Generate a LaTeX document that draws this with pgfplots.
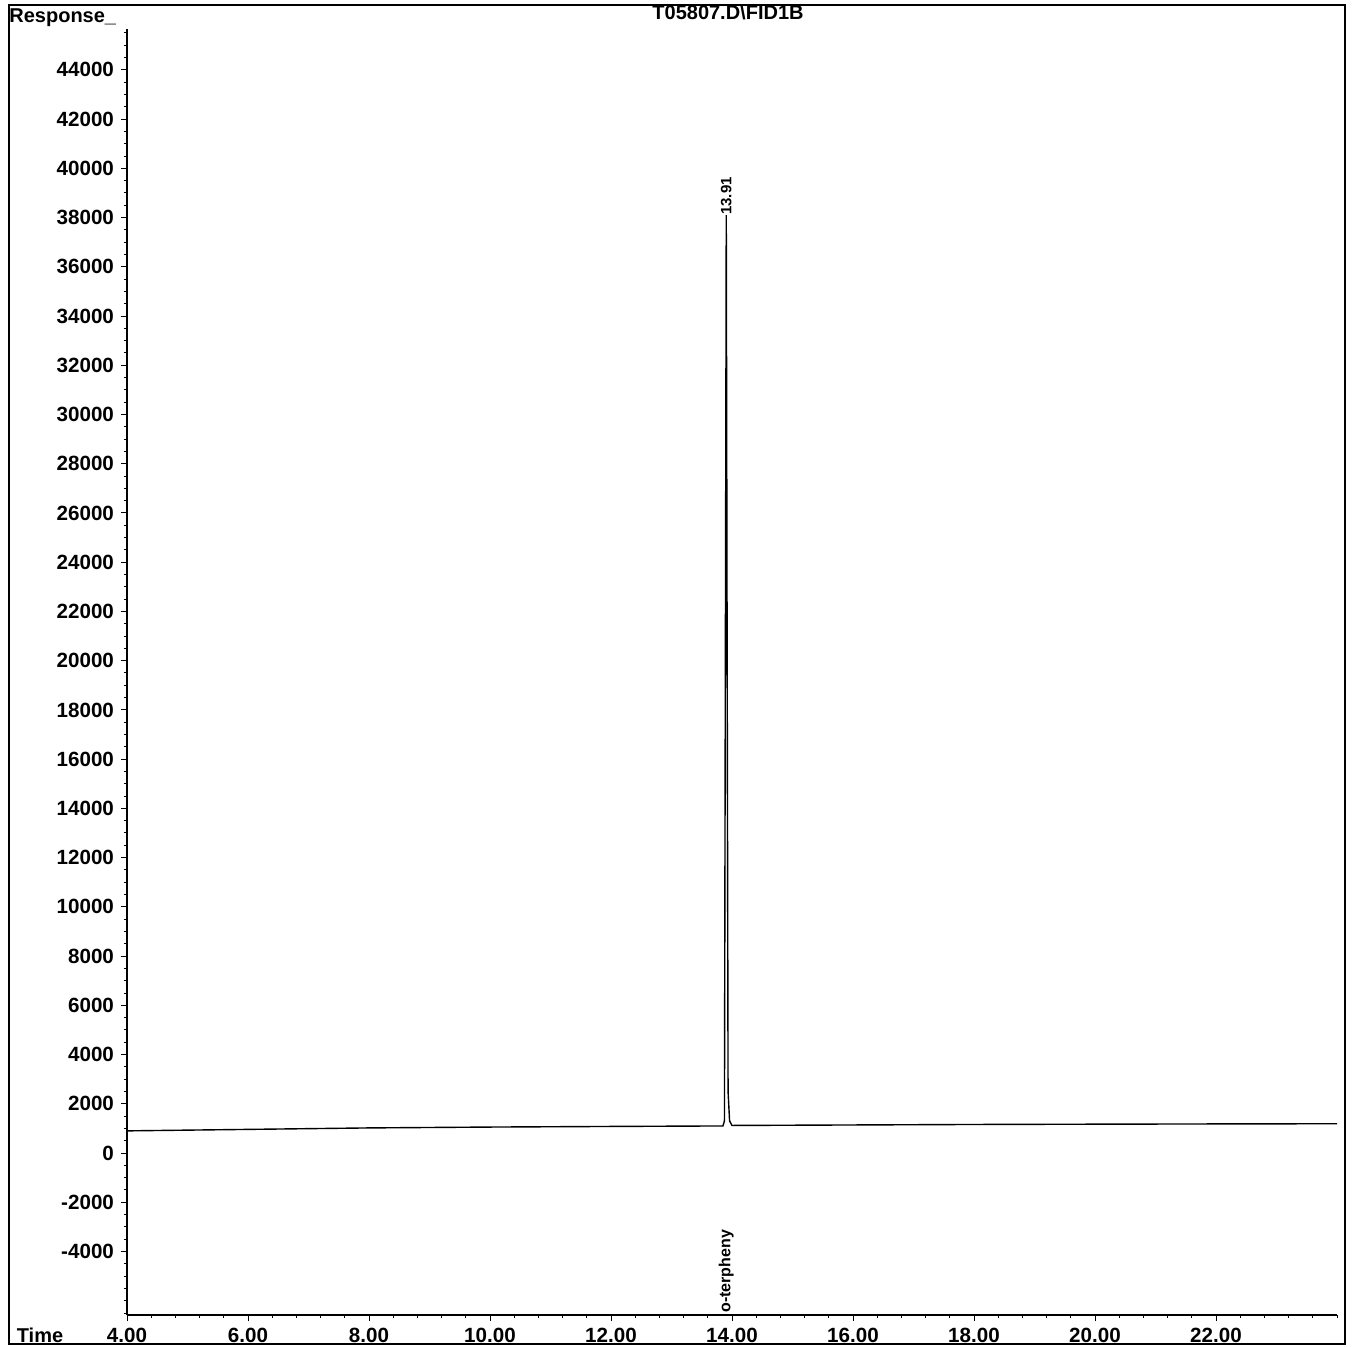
\documentclass[border=0pt]{standalone}
\usepackage{fontspec}
\setmainfont{Liberation Sans}
\usepackage{pgfplots}
\pgfplotsset{compat=1.18}
\begin{document}
\begin{tikzpicture}
\begin{axis}[
  at={(0,0)}, anchor=south west,
  scale only axis,
  width=605pt, height=643pt,
  xmin=4, xmax=24,
  ymin=-6580, ymax=45660,
  axis lines*=left,
  axis line style={line width=0.8pt},
  tick align=outside,
  major tick length=3pt,
  minor tick length=1.5pt,
  tick style={black, line width=0.5pt},
  xtick={4,6,...,22},
  minor xtick={4.4,4.8,...,23.9},
  ytick={-4000,-2000,...,44000},
  minor ytick={-6500,-6000,...,45500},
  /pgf/number format/assume math mode=true,
  ticklabel style={font=\fontsize{10.3}{12}\selectfont\bfseries},
  xticklabel style={/pgf/number format/fixed, /pgf/number format/fixed zerofill, /pgf/number format/precision=2},
  yticklabel style={/pgf/number format/fixed, /pgf/number format/set thousands separator={}},
  scaled y ticks=false,
  clip=false,
]
\addplot[black, line width=0.7pt] coordinates {
(4.00,900) (6.00,960) (8.00,1020) (10.00,1055) (12.00,1080) (13.85,1100)
(13.875,1300) (13.89,20000) (13.905,38100) (13.92,20000) (13.935,2500)
(13.96,1300) (14.00,1120) (16.00,1140) (18.00,1160) (20.00,1172) (22.00,1182) (24.00,1190)
};
\node[rotate=90, anchor=west, font=\fontsize{7.5}{9}\selectfont\bfseries, inner sep=1pt, xshift=-3.5pt] at (axis cs:13.905,38300) {13.91};
\node[rotate=90, anchor=west, font=\fontsize{8}{9.6}\selectfont\bfseries, inner sep=1pt] at (axis cs:13.905,-6580) {o-terpheny};
\end{axis}
\draw[line width=1pt] (-59pt,-14.5pt) rectangle (609pt,655pt);
\node[font=\fontsize{10}{12}\selectfont\bfseries, anchor=west, inner sep=0pt] at (-59pt,648.5pt) {Response\_};
\node[font=\fontsize{10}{12}\selectfont\bfseries, inner sep=0pt] at (300.5pt,651.5pt) {T05807.D\textbackslash FID1B};
\node[font=\fontsize{10}{12}\selectfont\bfseries, inner sep=0pt] at (-43.5pt,-10pt) {Time};
\pgfresetboundingbox
\path[use as bounding box] (-63.5pt,-15.5pt) rectangle (613pt,657.5pt);
\end{tikzpicture}
\end{document}
